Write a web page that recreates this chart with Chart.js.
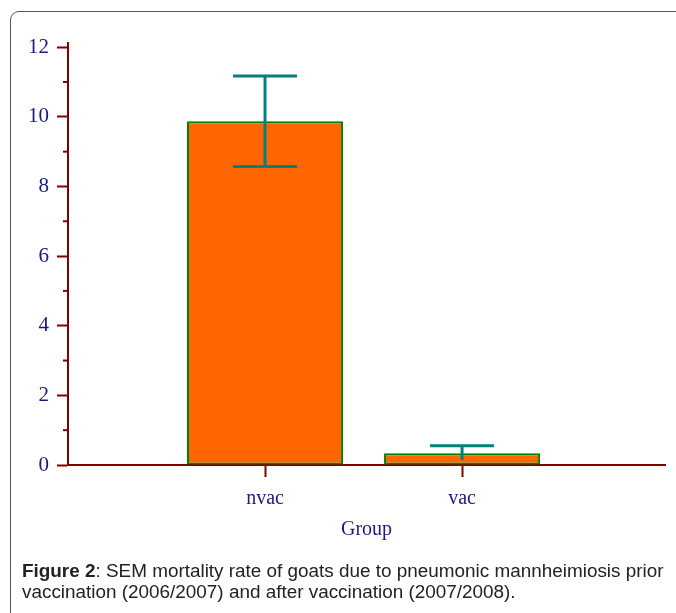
<!DOCTYPE html>
<html>
<head>
<meta charset="utf-8">
<script src="https://cdn.jsdelivr.net/npm/chart.js@4/dist/chart.umd.min.js"></script>
<style>
  body { margin: 0; background: #fff; }
  #wrap { position: relative; width: 676px; height: 613px; overflow: hidden; }
  #frame {
    position: absolute; left: 10px; top: 11px; width: 700px; height: 700px;
    border: 1px solid #555; border-top-left-radius: 9px;
  }
  #chart { position: absolute; left: 0; top: 0; }
  #caption {
    position: absolute; left: 22px; top: 560px; width: 654px;
    font: 18.9px "Liberation Sans", Arial, sans-serif; color: #222; line-height: 21px;
    white-space: nowrap;
  }
</style>
</head>
<body>
<div id="wrap">
  <div id="frame"></div>
  <canvas id="chart" width="676" height="613"></canvas>
  <div id="caption"><b>Figure 2</b>: SEM mortality rate of goats due to pneumonic mannheimiosis prior<br>vaccination (2006/2007) and after vaccination (2007/2008).</div>
</div>
<script>
const groups = ["nvac", "vac"];
const meanRate = [9.87, 0.34];
const errHigh = [11.17, 0.55];
const errLow = [8.57, 0.15];
const yTicks = [0, 1, 2, 3, 4, 5, 6, 7, 8, 9, 10, 11, 12];

const axisRed = "#800000";
const labelBlue = "#1a1a80";
const serif = "'Liberation Serif', 'Times New Roman', serif";

const minorTicks = {
  id: "minorTicks",
  afterDraw(chart) {
    const y = chart.scales.y;
    const ctx = chart.ctx;
    ctx.save();
    ctx.strokeStyle = axisRed;
    ctx.lineWidth = 2;
    yTicks.filter((v) => v % 2 === 1).forEach((v) => {
      const py = y.getPixelForValue(v);
      ctx.beginPath();
      ctx.moveTo(y.right - 5, py);
      ctx.lineTo(y.right, py);
      ctx.stroke();
    });
    ctx.restore();
  },
};

const errorBars = {
  id: "errorBars",
  afterDatasetsDraw(chart) {
    const x = chart.scales.x;
    const y = chart.scales.y;
    const ctx = chart.ctx;
    ctx.save();
    ctx.strokeStyle = "#008080";
    ctx.lineWidth = 3;
    groups.forEach((g, i) => {
      const px = x.getPixelForValue(i + 1);
      const top = y.getPixelForValue(errHigh[i]);
      const bot = y.getPixelForValue(errLow[i]);
      ctx.beginPath();
      ctx.moveTo(px, top);
      ctx.lineTo(px, bot);
      ctx.moveTo(px - 32, top);
      ctx.lineTo(px + 32, top);
      if (i === 0) {
        ctx.moveTo(px - 32, bot);
        ctx.lineTo(px + 32, bot);
      }
      ctx.stroke();
    });
    ctx.restore();
  },
};

new Chart(document.getElementById("chart"), {
  type: "bar",
  data: {
    datasets: [
      {
        data: groups.map((g, i) => ({ x: i + 1, y: meanRate[i] })),
        backgroundColor: "#ff6600",
        borderColor: "#008000",
        borderWidth: 2,
        borderSkipped: false,
        barPercentage: 0.792,
        categoryPercentage: 1,
      },
    ],
  },
  options: {
    responsive: false,
    animation: false,
    events: [],
    layout: { padding: { left: 0, top: 43, right: 11, bottom: 71 } },
    plugins: { legend: { display: false }, tooltip: { enabled: false } },
    scales: {
      x: {
        type: "linear",
        min: 0,
        max: 3.03,
        offset: false,
        afterBuildTicks: (scale) => {
          scale.ticks = groups.map((g, i) => ({ value: i + 1 }));
        },
        afterFit: (scale) => { scale.height = 77; },
        border: { color: axisRed, width: 2 },
        grid: { offset: false, drawOnChartArea: false, tickLength: 12, tickColor: axisRed, tickWidth: 2 },
        ticks: {
          color: labelBlue,
          font: { family: serif, size: 20 },
          padding: 10,
          callback: (v) => groups[v - 1] || "",
        },
        title: {
          display: true,
          text: "Group",
          color: labelBlue,
          font: { family: serif, size: 20 },
          padding: { top: 0, bottom: 0 },
        },
      },
      y: {
        min: 0,
        max: 12.12,
        afterBuildTicks: (scale) => {
          scale.ticks = yTicks.map((v) => ({ value: v }));
        },
        afterFit: (scale) => { scale.width = 68; },
        border: { color: axisRed, width: 2 },
        grid: {
          drawOnChartArea: false,
          tickLength: 11,
          tickWidth: 2,
          tickColor: (c) => (c.tick && c.tick.value % 2 === 0 ? axisRed : "rgba(0,0,0,0)"),
        },
        ticks: {
          color: labelBlue,
          font: { family: serif, size: 21 },
          padding: 8,
          callback: (v) => (v % 2 === 0 ? v : ""),
        },
      },
    },
  },
  plugins: [minorTicks, errorBars],
});
</script>
</body>
</html>
